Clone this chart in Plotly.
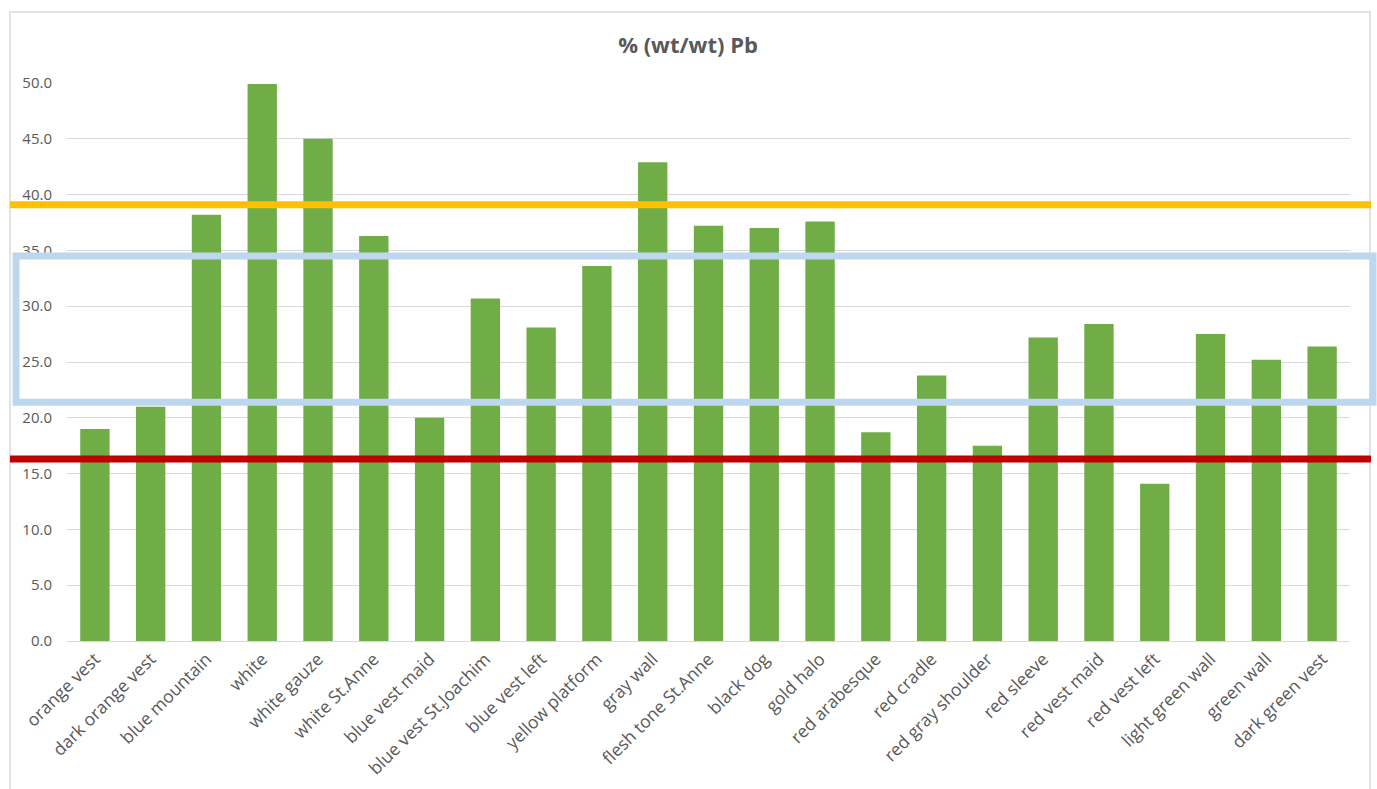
import plotly.graph_objects as go

categories = ["orange vest", "dark orange vest", "blue mountain", "white", "white gauze",
              "white St.Anne", "blue vest maid", "blue vest St.Joachim", "blue vest left",
              "yellow platform", "gray wall", "flesh tone St.Anne", "black dog", "gold halo",
              "red arabesque", "red cradle", "red gray shoulder", "red sleeve", "red vest maid",
              "red vest left", "light green wall", "green wall", "dark green vest"]
pb_values = [19.0, 21.0, 38.2, 49.9, 45.0, 36.3, 20.0, 30.7, 28.1, 33.6, 42.9, 37.2, 37.0, 37.6,
             18.7, 23.8, 17.5, 27.2, 28.4, 14.1, 27.5, 25.2, 26.4]
upper_limit = 39.1
lower_limit = 16.3
band_low = 21.4
band_high = 34.5

W, H = 1377, 789
ML, MR, MT, MB = 67, 27, 83, 148
PW = W - ML - MR
PH = H - MT - MB


def px_x(p):
    return (p - ML) / PW


def px_y(p):
    return (H - MB - p) / PH


fig = go.Figure()
fig.add_trace(go.Bar(x=categories, y=pb_values, marker=dict(color="#70AD47", line=dict(width=0)),
                     width=0.526))

shapes = [
    dict(type="rect", xref="paper", yref="paper", x0=px_x(10), x1=px_x(1370), y0=px_y(830), y1=px_y(12),
         line=dict(color="#D9D9D9", width=1.5), fillcolor="rgba(0,0,0,0)", layer="below"),
    dict(type="line", xref="paper", yref="y", x0=px_x(10), x1=px_x(1371), y0=upper_limit, y1=upper_limit,
         line=dict(color="#FFC000", width=7)),
    dict(type="line", xref="paper", yref="y", x0=px_x(10), x1=px_x(1371), y0=lower_limit, y1=lower_limit,
         line=dict(color="#C00000", width=7)),
    dict(type="rect", xref="paper", yref="y", x0=px_x(16), x1=px_x(1373), y0=band_low, y1=band_high,
         line=dict(color="#BDD7EE", width=7), fillcolor="rgba(0,0,0,0)"),
]

fig.update_layout(
    width=W, height=H, autosize=False,
    margin=dict(l=ML, r=MR, t=MT, b=MB, pad=0, autoexpand=False),
    paper_bgcolor="white", plot_bgcolor="white",
    font=dict(family="Open Sans", color="#595959", size=16),
    title=dict(text="<b>% (wt/wt) Pb</b>", x=688 / W, xanchor="center",
               y=1 - 45 / H, yanchor="middle", font=dict(size=22, color="#595959", family="Open Sans")),
    showlegend=False,
    shapes=shapes,
)
fig.update_yaxes(range=[0, 50], dtick=5, tickformat=".1f", showgrid=True, gridcolor="#D9D9D9",
                 gridwidth=1, zeroline=False, showline=False, ticks="", tickfont=dict(size=15, color="#595959"),
                 ticklabelstandoff=14, automargin=False)
fig.update_xaxes(tickangle=-45, showline=True, linecolor="#D9D9D9", linewidth=1, ticks="",
                 tickfont=dict(size=17.5, color="#595959"), automargin=False)

fig.write_html("out.html")
